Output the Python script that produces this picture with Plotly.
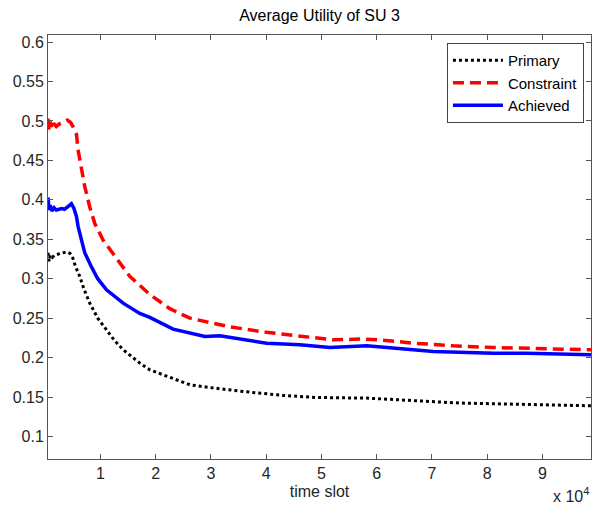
import plotly.graph_objects as go

# time slot values (x) and average utilities
primary_x = [500, 700, 900, 1300, 1700, 2200, 2800, 3400, 3840, 4500, 5000, 5500, 6250, 7000,
             8060, 9500, 11090, 12500, 14100, 17120, 18930, 22550, 26180, 29800, 35830,
             43080, 49130, 58190, 66030, 75090, 84150, 98800]
primary_y = [0.333, 0.322, 0.330, 0.327, 0.330, 0.331, 0.332, 0.333, 0.334, 0.332, 0.326,
             0.315, 0.303, 0.287, 0.269, 0.250, 0.235, 0.222, 0.210, 0.193, 0.1845, 0.175,
             0.1655, 0.162, 0.157, 0.152, 0.1494, 0.1486, 0.1456, 0.1423, 0.141, 0.1389]

constraint_x = [500, 700, 900, 1200, 1500, 2000, 2500, 3000, 3500, 4000, 4600, 5100, 5650,
                5950, 6550, 7150, 8060, 8970, 10470, 12590, 15300, 18930, 22550, 26180,
                29200, 33370, 40070, 46100, 52140, 56970, 60600, 66630, 73880, 81120, 87170, 98800]
constraint_y = [0.503, 0.487, 0.499, 0.490, 0.497, 0.493, 0.496, 0.497, 0.499, 0.501, 0.498,
                0.492, 0.483, 0.463, 0.442, 0.417, 0.391, 0.370, 0.349, 0.328, 0.303, 0.280,
                0.262, 0.250, 0.245, 0.239, 0.232, 0.227, 0.2225, 0.2234, 0.2225, 0.2183,
                0.2149, 0.2128, 0.212, 0.2098]

achieved_x = [500, 700, 900, 1200, 1600, 2000, 2500, 3000, 3500, 4000, 4740, 5200, 5650, 5950,
              6550, 7150, 8370, 9500, 11090, 14100, 17120, 18930, 23150, 26180, 28900, 31610,
              35830, 40070, 46100, 51540, 58190, 63010, 70250, 81120, 87170, 98800]
achieved_y = [0.403, 0.387, 0.393, 0.386, 0.390, 0.387, 0.388, 0.389, 0.388, 0.391, 0.395,
              0.389, 0.379, 0.366, 0.349, 0.333, 0.315, 0.300, 0.286, 0.269, 0.256, 0.251,
              0.236, 0.231, 0.2267, 0.2276, 0.2234, 0.2183, 0.2162, 0.2128, 0.2149, 0.212,
              0.2077, 0.2056, 0.2056, 0.2035]

x_tickvals = [10000, 20000, 30000, 40000, 50000, 60000, 70000, 80000, 90000]
x_ticktext = ["1", "2", "3", "4", "5", "6", "7", "8", "9"]
y_tickvals = [0.1, 0.15, 0.2, 0.25, 0.3, 0.35, 0.4, 0.45, 0.5, 0.55, 0.6]
y_ticktext = ["0.1", "0.15", "0.2", "0.25", "0.3", "0.35", "0.4", "0.45", "0.5", "0.55", "0.6"]

FONT = "Liberation Sans, Arial, Helvetica, sans-serif"

fig = go.Figure()
fig.add_trace(go.Scatter(x=primary_x, y=primary_y, mode="lines", name="Primary",
                         line=dict(color="black", width=3, dash="dot")))
fig.add_trace(go.Scatter(x=constraint_x, y=constraint_y, mode="lines", name="Constraint",
                         line=dict(color="#ff0000", width=3.5, dash="11px,6px")))
fig.add_trace(go.Scatter(x=achieved_x, y=achieved_y, mode="lines", name="Achieved",
                         line=dict(color="#0000ff", width=3.5)))

axis_common = dict(showline=True, linecolor="#555555", linewidth=1, mirror="ticks",
                   ticks="inside", ticklen=5, tickcolor="#555555", showgrid=False,
                   zeroline=False, tickfont=dict(family=FONT, size=16, color="#262626"))

fig.update_layout(
    width=593, height=508,
    margin=dict(l=48, r=2, t=35, b=49),
    paper_bgcolor="white", plot_bgcolor="white",
    font=dict(family=FONT, size=16, color="#262626"),
    title=dict(text="Average Utility of SU 3", x=0.5, xref="paper", xanchor="center",
               y=1 - 15 / 508, yref="container", yanchor="middle",
               font=dict(family=FONT, size=16, color="black")),
    xaxis=dict(range=[500, 98800], tickvals=x_tickvals, ticktext=x_ticktext,
               title=dict(text="time slot", standoff=4, font=dict(family=FONT, size=16)),
               automargin=False, **axis_common),
    yaxis=dict(range=[0.0714, 0.609], tickvals=y_tickvals, ticktext=y_ticktext,
               automargin=False, **axis_common),
    legend=dict(x=0.987, y=0.981, xanchor="right", yanchor="top",
                bgcolor="white", bordercolor="#444444", borderwidth=1,
                font=dict(family=FONT, size=15, color="black"),
                tracegroupgap=0, itemwidth=50),
    showlegend=True,
)

fig.add_annotation(text="x 10<sup>4</sup>", xref="paper", yref="paper",
                   x=1.0, y=-0.085, xanchor="right", yanchor="middle", showarrow=False,
                   font=dict(family=FONT, size=16, color="#262626"))

fig.write_html("out.html", config={"displayModeBar": False},
               post_script="document.body.style.margin='0';document.body.style.overflow='hidden';")
